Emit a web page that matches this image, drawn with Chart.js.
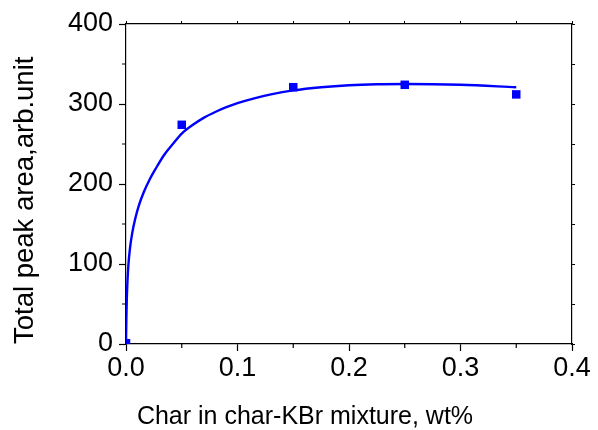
<!DOCTYPE html>
<html>
<head>
<meta charset="utf-8">
<script src="https://cdn.jsdelivr.net/npm/chart.js@4.4.1/dist/chart.umd.min.js"></script>
<style>
  html, body { margin: 0; padding: 0; background: #fff; }
  #wrap { width: 598px; height: 430px; }
</style>
</head>
<body>
<div id="wrap"><canvas id="myChart" width="598" height="430"></canvas></div>
<script>
// measured points
const sampleX = [0, 0.05, 0.15, 0.25, 0.35];
const sampleY = [1, 274, 321, 324, 312];

// fitted curve
const fitX = [0, 0.0003, 0.0007, 0.0013, 0.0021, 0.0036, 0.0055, 0.008, 0.0115, 0.016,
              0.021, 0.027, 0.034, 0.042, 0.05, 0.06, 0.07, 0.08, 0.09, 0.1,
              0.115, 0.13, 0.15, 0.175, 0.2, 0.225, 0.25, 0.3, 0.35];
const fitY = [0, 30, 55, 78, 98, 120, 138, 155, 173, 190,
              205, 220, 236, 250, 263, 274, 283, 290, 296, 301,
              307, 312, 317, 321, 323.5, 324.7, 325, 324, 321];

// minor tick values on the left and bottom axes
const xMinorTicks = [0.05, 0.15, 0.25, 0.35];
const yMinorTicks = [50, 150, 250, 350];

const FONT = 'Liberation Sans, Arial, sans-serif';
const BLUE = '#0000ff';

// draws the short minor ticks on left and bottom axes
const minorTicks = {
    id: 'minorTicks',
    afterDraw(chart) {
        const ctx = chart.ctx;
        const xs = chart.scales.x, ys = chart.scales.y;
        const area = chart.chartArea;
        ctx.save();
        ctx.strokeStyle = '#000';
        ctx.lineWidth = 1.2;
        ctx.beginPath();
        xMinorTicks.forEach(v => {
            const px = xs.getPixelForValue(v);
            ctx.moveTo(px, area.bottom);
            ctx.lineTo(px, area.bottom + 4);
        });
        yMinorTicks.forEach(v => {
            const py = ys.getPixelForValue(v);
            ctx.moveTo(area.left, py);
            ctx.lineTo(area.left - 4, py);
        });
        ctx.stroke();
        ctx.restore();
    }
};

const data = {
    datasets: [{
        label: 'measured',
        data: sampleX.map((x, i) => ({x: x, y: sampleY[i]})),
        pointStyle: 'rect',
        pointRadius: 6,
        backgroundColor: BLUE,
        borderColor: BLUE,
        borderWidth: 0,
        showLine: false
    }, {
        label: 'fit',
        data: fitX.map((x, i) => ({x: x, y: fitY[i]})),
        showLine: true,
        borderColor: BLUE,
        borderWidth: 2.4,
        pointRadius: 0,
        cubicInterpolationMode: 'monotone',
        fill: false
    }]
};

const config = {
    type: 'scatter',
    data: data,
    options: {
        responsive: false,
        devicePixelRatio: 1,
        animation: false,
        layout: {
            padding: {left: 12, right: 0, top: 0, bottom: 0}
        },
        plugins: {
            legend: {display: false},
            tooltip: {enabled: false},
            title: {
                display: true,
                position: 'bottom',
                text: 'Char in char-KBr mixture, wt%',
                color: '#000',
                font: {family: FONT, size: 25, weight: 'normal', lineHeight: 1.05},
                padding: 0
            }
        },
        scales: {
            x: {
                type: 'linear',
                position: 'bottom',
                min: 0,
                max: 0.4,
                afterFit: s => { s.height = 59.75; },
                border: {color: '#000', width: 1.2},
                grid: {drawOnChartArea: false, tickLength: 7, tickColor: '#000', tickWidth: 1.2},
                ticks: {
                    stepSize: 0.1,
                    padding: 1,
                    color: '#000',
                    font: {family: FONT, size: 27},
                    callback: v => v.toFixed(1)
                }
            },
            y: {
                type: 'linear',
                position: 'left',
                min: 0,
                max: 400,
                afterFit: s => { s.width = 114; },
                border: {color: '#000', width: 1.2},
                grid: {drawOnChartArea: false, tickLength: 7, tickColor: '#000', tickWidth: 1.2},
                ticks: {
                    stepSize: 100,
                    padding: 6,
                    color: '#000',
                    font: {family: FONT, size: 27}
                },
                title: {
                    display: true,
                    text: 'Total peak area,arb.unit',
                    align: 'start',
                    color: '#000',
                    font: {family: FONT, size: 27.5, lineHeight: 1},
                    padding: 0
                }
            },
            x2: {
                type: 'linear',
                position: 'top',
                min: 0,
                max: 0.4,
                afterFit: s => { s.height = 24; },
                border: {color: '#000', width: 1.2},
                grid: {drawOnChartArea: false, tickLength: 3, tickColor: '#000'},
                ticks: {stepSize: 0.05, display: false}
            },
            y2: {
                type: 'linear',
                position: 'right',
                min: 0,
                max: 400,
                afterFit: s => { s.width = 26; },
                border: {color: '#000', width: 1.2},
                grid: {drawOnChartArea: false, tickLength: 3, tickColor: '#000'},
                ticks: {stepSize: 50, display: false}
            }
        }
    },
    plugins: [minorTicks]
};

var ctx = document.getElementById('myChart').getContext('2d');
var myChart = new Chart(ctx, config);
</script>
</body>
</html>
